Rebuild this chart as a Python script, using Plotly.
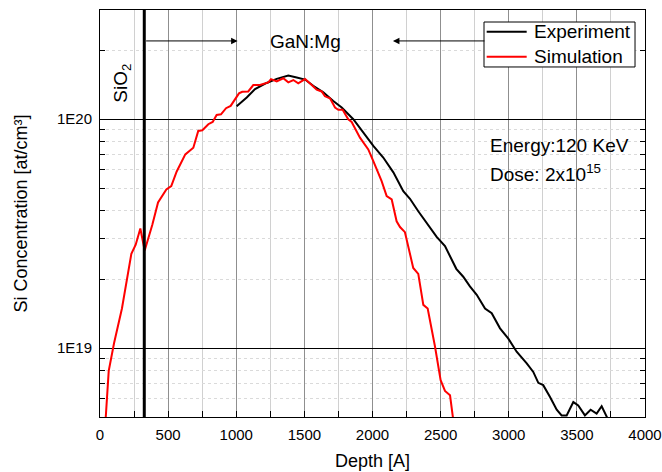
import plotly.graph_objects as go

# ---- data ----
exp_depth = [1003, 1077, 1138, 1223, 1297, 1382, 1444, 1505, 1565, 1639, 1712, 1774, 1859,
             1932, 2006, 2079, 2153, 2226, 2275, 2336, 2422, 2471, 2532, 2615, 2666, 2715,
             2765, 2826, 2875, 2936, 2997, 3058, 3132, 3180, 3217, 3253, 3303, 3352, 3388,
             3425, 3474, 3510, 3559, 3601, 3645, 3682, 3725]
exp_conc = [1.14e20, 1.245e20, 1.355e20, 1.44e20, 1.50e20, 1.55e20, 1.52e20, 1.49e20, 1.40e20,
            1.31e20, 1.20e20, 1.125e20, 1.0e20, 8.75e19, 7.64e19, 6.80e19, 5.86e19, 4.85e19,
            4.49e19, 3.96e19, 3.38e19, 3.06e19, 2.79e19, 2.22e19, 2.05e19, 1.86e19, 1.71e19,
            1.49e19, 1.42e19, 1.22e19, 1.10e19, 9.64e18, 8.57e18, 7.87e18, 7.05e18, 6.89e18,
            6.11e18, 5.38e18, 5.08e18, 5.08e18, 5.81e18, 5.62e18, 5.08e18, 5.38e18, 5.17e18,
            5.57e18, 4.93e18]

sim_depth = [37, 64, 103, 161, 230, 262, 296, 328, 384, 426, 487, 523, 563, 626, 685, 721,
             751, 795, 827, 856, 888, 925, 959, 1020, 1044, 1088, 1125, 1174, 1235, 1255, 1297,
             1345, 1382, 1419, 1455, 1505, 1554, 1590, 1627, 1651, 1688, 1725, 1749, 1781,
             1822, 1847, 1908, 1969, 2006, 2067, 2104, 2141, 2177, 2202, 2238, 2299, 2336,
             2373, 2405, 2459, 2500, 2532, 2569, 2598]
sim_conc = [4.46e18, 7.95e18, 1.05e19, 1.49e19, 2.58e19, 2.83e19, 3.33e19, 2.67e19, 3.46e19,
            4.33e19, 4.93e19, 5.10e19, 5.91e19, 7.02e19, 7.51e19, 8.89e19, 8.95e19, 9.51e19,
            9.73e19, 1.044e20, 1.05e20, 1.117e20, 1.143e20, 1.297e20, 1.318e20, 1.322e20,
            1.41e20, 1.41e20, 1.449e20, 1.497e20, 1.463e20, 1.51e20, 1.449e20, 1.483e20,
            1.435e20, 1.497e20, 1.41e20, 1.345e20, 1.322e20, 1.259e20, 1.233e20, 1.125e20,
            1.10e20, 1.10e20, 1.0e20, 9.73e19, 8.31e19, 7.38e19, 6.56e19, 5.36e19, 4.61e19,
            4.46e19, 3.58e19, 3.38e19, 3.21e19, 2.24e19, 2.11e19, 1.545e19, 1.49e19,
            1.014e19, 7.24e18, 6.50e18, 6.22e18, 4.59e18]

series_names = ["Experiment", "Simulation"]
series_colors = ["black", "#ff0000"]

sio2_boundary = 325          # depth [A] of the SiO2 / GaN:Mg interface
y_major_vals = [1e19, 1e20]
y_major_text = ["1E19", "1E20"]
y_minor_vals = [6e18, 7e18, 8e18, 9e18] + [k * 1e19 for k in range(2, 10)] + [2e20, 3e20]
x_ticks = list(range(0, 4001, 500))

FONT = "Arial, Liberation Sans, sans-serif"

fig = go.Figure()
fig.add_trace(go.Scatter(x=exp_depth, y=exp_conc, mode="lines", name=series_names[0],
                         line=dict(color=series_colors[0], width=2), showlegend=False))
fig.add_trace(go.Scatter(x=sim_depth, y=sim_conc, mode="lines", name=series_names[1],
                         line=dict(color=series_colors[1], width=2), showlegend=False))

fig.add_shape(type="line", x0=sio2_boundary, x1=sio2_boundary, y0=0, y1=1,
              xref="x", yref="paper", line=dict(color="black", width=3))

# compact legend box (Origin style)
fig.add_shape(type="rect", x0=0.7046, x1=0.9817, y0=0.86, y1=0.9705,
              xref="paper", yref="paper", line=dict(color="black", width=1),
              fillcolor="white", layer="above")
for i, (nm, col) in enumerate(zip(series_names, series_colors)):
    yy = 0.9467 - i * 0.0614
    fig.add_shape(type="line", x0=0.7095, x1=0.7829, y0=yy, y1=yy,
                  xref="paper", yref="paper", line=dict(color=col, width=2), layer="above")
    fig.add_annotation(x=0.7930, y=yy, xref="paper", yref="paper", text=nm,
                       showarrow=False, xanchor="left", yanchor="middle",
                       font=dict(size=19, color="black", family=FONT))

# arrows and labels
fig.add_annotation(x=1010, y=0.924, xref="x", yref="paper", ax=-93, ay=0,
                   showarrow=True, arrowhead=2, arrowsize=1.3, arrowwidth=1, arrowcolor="black",
                   text="")
fig.add_annotation(x=2150, y=0.924, xref="x", yref="paper", ax=93, ay=0,
                   showarrow=True, arrowhead=2, arrowsize=1.3, arrowwidth=1, arrowcolor="black",
                   text="")
fig.add_annotation(x=1505, y=0.922, xref="x", yref="paper", text="GaN:Mg", showarrow=False,
                   yanchor="middle", xanchor="center",
                   font=dict(size=19, color="black", family=FONT))
fig.add_annotation(x=165, y=0.82, xref="x", yref="paper", text="SiO<sub>2</sub>",
                   showarrow=False, textangle=-90, yanchor="middle", xanchor="center",
                   font=dict(size=19, color="black", family=FONT))
fig.add_annotation(x=0.712, y=0.668, xref="paper", yref="paper", text="Energy:120 KeV",
                   showarrow=False, xanchor="left", yanchor="middle",
                   font=dict(size=19, color="black", family=FONT))
fig.add_annotation(x=0.712, y=0.60, xref="paper", yref="paper", text="Dose: 2x10<sup>15</sup>",
                   showarrow=False, xanchor="left", yanchor="middle",
                   font=dict(size=19, color="black", family=FONT))

fig.update_layout(
    width=662, height=472,
    margin=dict(l=100, r=17, t=10, b=55, autoexpand=False),
    paper_bgcolor="white", plot_bgcolor="white",
    font=dict(family=FONT, size=15, color="black"),
    showlegend=False,
)

fig.update_xaxes(
    range=[0, 4000], tickmode="array", tickvals=x_ticks, automargin=False,
    ticks="inside", ticklen=6, tickcolor="black", ticklabelstandoff=4,
    showline=True, linecolor="black", linewidth=1, mirror=True,
    showgrid=True, gridcolor="#8f8f8f", gridwidth=1,
    minor=dict(dtick=250, tick0=0, ticks="inside", ticklen=6, tickcolor="black",
               showgrid=True, gridcolor="#d0d0d0", gridwidth=1),
    zeroline=False,
    title=dict(text="Depth [A]", font=dict(size=18, family=FONT), standoff=12),
    tickfont=dict(size=15, family=FONT),
)
fig.update_yaxes(
    type="log", range=[18.69897, 20.47712], automargin=False,
    tickmode="array", tickvals=y_major_vals, ticktext=y_major_text,
    ticks="inside", ticklen=6, tickcolor="black", ticklabelstandoff=4,
    showline=True, linecolor="black", linewidth=1, mirror="ticks",
    showgrid=True, gridcolor="black", gridwidth=1,
    minor=dict(tickmode="array", tickvals=y_minor_vals, ticks="inside", ticklen=5,
               tickcolor="black", showgrid=True, gridcolor="#dadada", griddash="dot",
               gridwidth=1),
    zeroline=False,
    title=dict(text="Si Concentration [at/cm³]", font=dict(size=18, family=FONT), standoff=24),
    tickfont=dict(size=15, family=FONT),
)

fig.write_html("out.html", config={"displayModeBar": False},
               post_script="document.body.style.margin='0';document.body.style.overflow='hidden';")
